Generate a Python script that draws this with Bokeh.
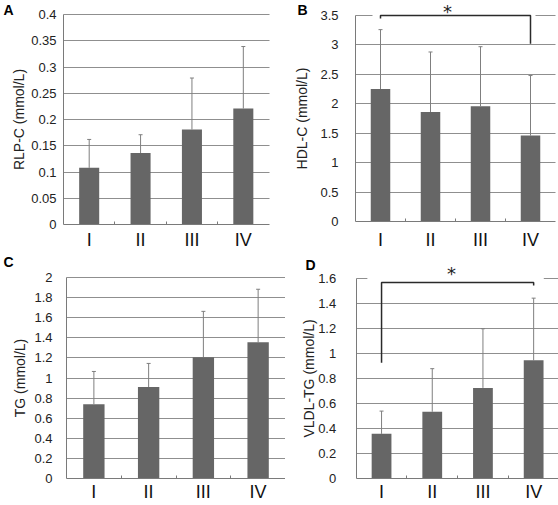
from bokeh.plotting import figure
from bokeh.models import FixedTicker, Label, Range1d
from bokeh.layouts import column, row
from bokeh.embed import file_html
from bokeh.resources import INLINE

# ---------------- data ----------------
categories = ["I", "II", "III", "IV"]

rlp_mean = [0.108, 0.136, 0.181, 0.221]
rlp_upper = [0.162, 0.171, 0.279, 0.339]
rlp_ticks = [0, 0.05, 0.1, 0.15, 0.2, 0.25, 0.3, 0.35, 0.4]

hdl_mean = [2.25, 1.86, 1.96, 1.46]
hdl_upper = [3.26, 2.88, 2.97, 2.48]
hdl_ticks = [0, 0.5, 1, 1.5, 2, 2.5, 3, 3.5]

tg_mean = [0.74, 0.91, 1.207, 1.356]
tg_upper = [1.065, 1.145, 1.663, 1.883]
tg_ticks = [0, 0.2, 0.4, 0.6, 0.8, 1, 1.2, 1.4, 1.6, 1.8, 2]

vldl_mean = [0.358, 0.535, 0.726, 0.947]
vldl_upper = [0.54, 0.88, 1.2, 1.445]
vldl_ticks = [0, 0.2, 0.4, 0.6, 0.8, 1, 1.2, 1.4, 1.6]

# significance brackets (I vs IV): left leg end, bar level, bar level, right leg end
hdl_bracket = [3.45, 3.5, 3.5, 3.02]
vldl_bracket = [0.928, 1.57, 1.57, 1.547]

FONT = "Liberation Sans"
BAR = "#666666"
GRID = "#8f8f8f"
AXIS = "#7a7a7a"
ERR = "#7f7f7f"

N = len(categories)
xs = [i + 0.5 for i in range(N)]
bounds_ticks = [i + 1 for i in range(N - 1)]


def panel(letter, ylabel, mean, upper, ticks, W, H, ax_l, ax_r, y0, ytop,
          y_standoff, title_standoff, x_standoff, letter_px):
    """Frame fills the whole figure; axes are pinned with fixed_location.
    ax_l/ax_r: pixel x of category-axis start/end, y0/ytop: pixel y of 0 and
    of the top tick (relative to the figure)."""
    top = ticks[-1]
    sx = (ax_r - ax_l) / N
    sy = (y0 - ytop) / top

    def to_x(px):
        return (px - ax_l) / sx

    def to_y(py):
        return (y0 - py) / sy

    p = figure(width=W, height=H, output_backend="svg",
               toolbar_location=None,
               x_range=Range1d(-ax_l / sx, N + (W - ax_r) / sx),
               y_range=Range1d(-(H - y0) / sy, top + ytop / sy),
               min_border_left=0, min_border_right=0,
               min_border_top=0, min_border_bottom=0)
    p.outline_line_color = None
    p.background_fill_color = "white"
    p.border_fill_color = "white"

    yax = p.yaxis[0]
    yax.fixed_location = 0
    yax.ticker = FixedTicker(ticks=ticks)
    yax.major_label_overrides = {t: f"{t:g}" for t in ticks}
    yax.bounds = (0, top)
    yax.major_tick_out = 0
    yax.major_tick_in = 0
    yax.minor_tick_out = 0
    yax.axis_line_color = AXIS
    yax.major_label_text_font = FONT
    yax.major_label_text_font_size = "13px"
    yax.major_label_text_color = "#222222"
    yax.major_label_standoff = y_standoff
    yax.axis_label = ylabel
    yax.axis_label_text_font = FONT
    yax.axis_label_text_font_size = "14px"
    yax.axis_label_text_font_style = "normal"
    yax.axis_label_text_color = "#222222"
    yax.axis_label_standoff = title_standoff

    xax = p.xaxis[0]
    xax.fixed_location = 0
    xax.bounds = (0, N)
    xax.ticker = FixedTicker(ticks=xs, minor_ticks=bounds_ticks)
    xax.major_label_overrides = dict(zip(xs, categories))
    xax.major_tick_out = 0
    xax.major_tick_in = 0
    xax.minor_tick_out = 0
    xax.minor_tick_in = 3
    xax.minor_tick_line_color = AXIS
    xax.axis_line_color = AXIS
    xax.major_label_text_font = FONT
    xax.major_label_text_font_size = "18px"
    xax.major_label_text_color = "#111111"
    xax.major_label_standoff = x_standoff

    p.xgrid.visible = False
    g = p.ygrid[0]
    if "cross_bounds" in g.properties():
        g.ticker = FixedTicker(ticks=ticks[1:])
        g.cross_bounds = (0, N)
        g.grid_line_color = GRID
    else:
        g.visible = False
        p.segment(x0=[0] * len(ticks), x1=[N] * len(ticks), y0=ticks,
                  y1=ticks, line_color=GRID, line_width=1)

    p.segment(x0=xs, y0=mean, x1=xs, y1=upper, line_color=ERR, line_width=1)
    p.scatter(x=xs, y=upper, marker="dash", size=4, line_color=ERR)
    p.vbar(x=xs, top=mean, bottom=0, width=0.39, fill_color=BAR,
           line_color=None)

    p.add_layout(Label(x=to_x(letter_px[0]), y=to_y(letter_px[1]),
                       text=letter, text_font=FONT, text_font_size="14px",
                       text_font_style="bold", text_baseline="alphabetic",
                       text_color="black"))
    return p, to_x, to_y


def bracket(fig, levels, cover, star_px, baseline):
    p, to_x, to_y = fig
    x_b = [xs[0], xs[0], xs[-1], xs[-1]]
    p.segment(x0=[xs[0] - cover[0]], x1=[xs[-1] + cover[1]],
              y0=[cover[2]], y1=[cover[2]], line_color="white", line_width=3)
    p.line(x=x_b, y=levels, line_color="#2a2a2a", line_width=1.5)
    p.add_layout(Label(x=to_x(star_px[0]), y=to_y(star_px[1]), text="*",
                       text_font="DejaVu Sans", text_font_size="18px",
                       text_align="center", text_baseline=baseline,
                       text_color="#222222"))


fa = panel("A", "RLP-C (mmol/L)", rlp_mean, rlp_upper, rlp_ticks,
           278, 250, 63, 268.5, 224, 14, 7, 1, 5, (3, 9.5))
fb = panel("B", "HDL-C (mmol/L)", hdl_mean, hdl_upper, hdl_ticks,
           280, 250, 77, 277, 221, 15, 17, 7, 8, (19, 9.5))
bracket(fb, hdl_bracket, (0.16, 0.1, 3.5), (169, 0.5), "top")

fc = panel("C", "TG (mmol/L)", tg_mean, tg_upper, tg_ticks,
           285, 255, 66, 285, 228, 27, 14, 3, 3, (3, 11.5))
fd = panel("D", "VLDL-TG (mmol/L)", vldl_mean, vldl_upper, vldl_ticks,
           273, 255, 70.7, 273.5, 228, 28.3, 20, -2, 3, (20, 14.5))
bracket(fd, vldl_bracket, (0.28, 0.2, 1.6), (166, 23), "alphabetic")

layout = column(row(fa[0], fb[0]), row(fc[0], fd[0]))

with open("out.html", "w") as f:
    f.write(file_html(layout, INLINE))
